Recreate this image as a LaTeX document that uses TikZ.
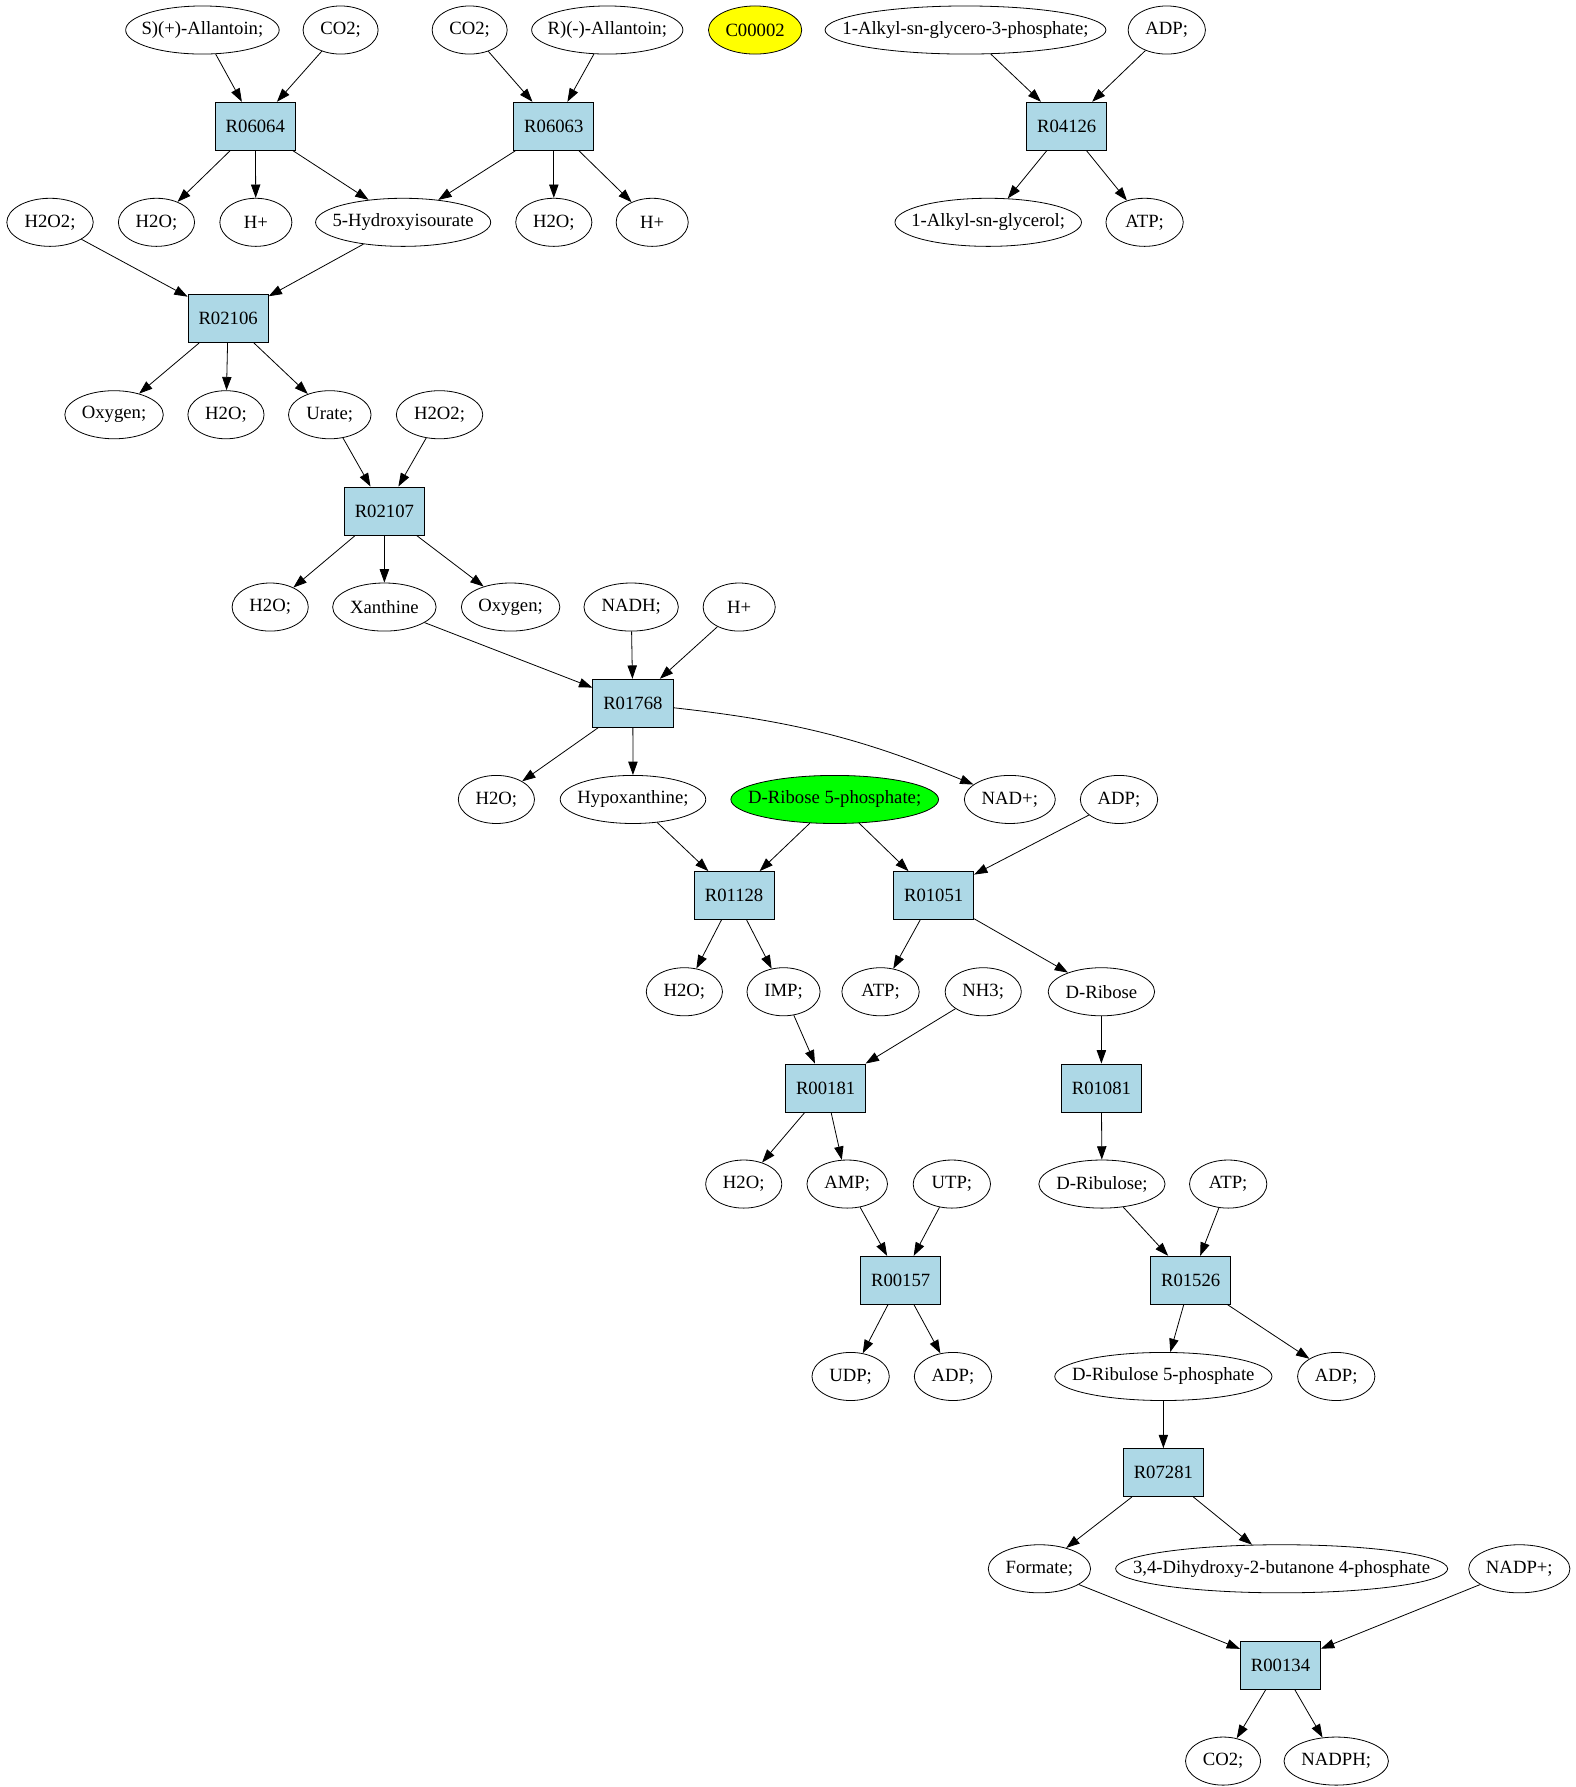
\documentclass[tikz,border=0pt]{standalone}
\usepackage{fontspec}
\setmainfont{Liberation Serif}
\usetikzlibrary{shapes.geometric,arrows.meta}
\definecolor{lb}{HTML}{ADD8E6}
\definecolor{yel}{HTML}{FFFF00}
\definecolor{grn}{HTML}{00FF00}
\newcommand{\zw}[1]{\makebox[0pt]{#1}}
\begin{document}
\begin{tikzpicture}[x=0.8514pt,y=0.8514pt,
  met/.style={ellipse,draw,fill=white,line width=0.6pt,minimum height=36pt,minimum width=#1*0.8514pt,inner sep=0pt,font=\fontsize{14}{16}\selectfont},
  rx/.style={rectangle,draw,fill=lb,line width=0.6pt,minimum width=60pt,minimum height=36pt,inner sep=0pt,font=\fontsize{14}{16}\selectfont},
  ar/.style={-{Triangle[length=10pt,width=7pt]},line width=0.6pt}]
\useasboundingbox (0,0) rectangle (1385,-1571.4);
% row 0
\node[met=135] (sall) at (178,-26.4) {\zw{S)(+)-Allantoin;}};
\node[met=66] (co2a) at (299.5,-26.4) {\zw{CO2;}};
\node[met=66] (co2b) at (413,-26.4) {\zw{CO2;}};
\node[met=133] (rall) at (534,-26.4) {\zw{R)(-)-Allantoin;}};
\node[met=82,fill=yel] (c2) at (664,-26.4) {\zw{C00002}};
\node[met=247] (agp) at (849,-26.4) {\zw{1-Alkyl-sn-glycero-3-phosphate;}};
\node[met=68] (adp0) at (1026,-26.4) {\zw{ADP;}};
% row 1
\node[rx] (r06064) at (224.5,-111) {R06064};
\node[rx] (r06063) at (487,-111) {R06063};
\node[rx] (r04126) at (938,-111) {R04126};
% row 2
\node[met=76] (h2o2a) at (44,-195.5) {\zw{H2O2;}};
\node[met=67] (h2oa) at (137.6,-195.5) {\zw{H2O;}};
\node[met=63.4] (hpa) at (225,-195.5) {\zw{H+}};
\node[met=154] (hiu) at (354.5,-195.5) {\zw{5-Hydroxyisourate}};
\node[met=67] (h2ob) at (487,-195.5) {\zw{H2O;}};
\node[met=63.4] (hpb) at (573.5,-195.5) {\zw{H+}};
\node[met=164] (ag) at (869,-195.5) {\zw{1-Alkyl-sn-glycerol;}};
\node[met=68] (atpa) at (1006.5,-195.5) {\zw{ATP;}};
% row 3
\node[rx] (r02106) at (200.6,-280.1) {R02106};
% row 4
\node[met=86.6] (oxa) at (100.3,-364.7) {\zw{Oxygen;}};
\node[met=67] (h2oc) at (198.7,-364.7) {\zw{H2O;}};
\node[met=72.6] (urate) at (290,-364.7) {\zw{Urate;}};
\node[met=76] (h2o2b) at (386.5,-364.7) {\zw{H2O2;}};
% row 5
\node[rx] (r02107) at (338,-449.3) {R02107};
% row 6
\node[met=67] (h2od) at (237.6,-533.8) {\zw{H2O;}};
\node[met=91] (xan) at (338,-533.8) {\zw{Xanthine}};
\node[met=86.6] (oxb) at (449,-533.8) {\zw{Oxygen;}};
\node[met=83] (nadh) at (555,-533.8) {\zw{NADH;}};
\node[met=63.4] (hpc) at (650,-533.8) {\zw{H+}};
% row 7
\node[rx] (r01768) at (556.5,-618.4) {R01768};
% row 8
\node[met=67] (h2oe) at (436.5,-703) {\zw{H2O;}};
\node[met=128] (hyp) at (556.6,-703) {\zw{Hypoxanthine;}};
\node[met=182.6,fill=grn] (dr5p) at (734,-703) {\zw{D-Ribose 5-phosphate;}};
\node[met=80] (nad) at (888,-703) {\zw{NAD+;}};
\node[met=68] (adpa) at (984,-703) {\zw{ADP;}};
% row 9
\node[rx] (r01128) at (645.5,-787.5) {R01128};
\node[rx] (r01051) at (821,-787.5) {R01051};
% row 10
\node[met=67] (h2of) at (601.8,-872.1) {\zw{H2O;}};
\node[met=64.3] (imp) at (689,-872.1) {\zw{IMP;}};
\node[met=68] (atpb) at (774.3,-872.1) {\zw{ATP;}};
\node[met=67] (nh3) at (864.6,-872.1) {\zw{NH3;}};
\node[met=93.6] (drib) at (968.5,-872.1) {\zw{D-Ribose}};
% row 11
\node[rx] (r00181) at (726,-956.7) {R00181};
\node[rx] (r01081) at (968.5,-956.7) {R01081};
% row 12
\node[met=67] (h2og) at (654,-1041.2) {\zw{H2O;}};
\node[met=70.8] (amp) at (745,-1041.2) {\zw{AMP;}};
\node[met=68] (utp) at (837,-1041.2) {\zw{UTP;}};
\node[met=111] (drul) at (969,-1041.2) {\zw{D-Ribulose;}};
\node[met=68] (atpc) at (1080,-1041.2) {\zw{ATP;}};
% row 13
\node[rx] (r00157) at (792,-1125.8) {R00157};
\node[rx] (r01526) at (1047,-1125.8) {R01526};
% row 14
\node[met=68] (udp) at (748,-1210.4) {\zw{UDP;}};
\node[met=68] (adpb) at (838,-1210.4) {\zw{ADP;}};
\node[met=191] (dru5p) at (1023,-1210.4) {\zw{D-Ribulose 5-phosphate}};
\node[met=68] (adpc) at (1175,-1210.4) {\zw{ADP;}};
% row 15
\node[rx] (r07281) at (1023,-1294.9) {R07281};
% row 16
\node[met=90] (form) at (914,-1379.5) {\zw{Formate;}};
\node[met=292] (dhbp) at (1127,-1379.5) {\zw{3,4-Dihydroxy-2-butanone 4-phosphate}};
\node[met=89] (nadp) at (1336,-1379.5) {\zw{NADP+;}};
% row 17
\node[rx] (r00134) at (1126,-1464.1) {R00134};
% row 18
\node[met=66] (co2c) at (1075.5,-1548.6) {\zw{CO2;}};
\node[met=91.8] (nadph) at (1175,-1548.6) {\zw{NADPH;}};
% edges
\draw[ar] (sall) -- (r06064);
\draw[ar] (co2a) -- (r06064);
\draw[ar] (co2b) -- (r06063);
\draw[ar] (rall) -- (r06063);
\draw[ar] (agp) -- (r04126);
\draw[ar] (adp0) -- (r04126);
\draw[ar] (r06064) -- (h2oa);
\draw[ar] (r06064) -- (hpa);
\draw[ar] (r06064) -- (hiu);
\draw[ar] (r06063) -- (hiu);
\draw[ar] (r06063) -- (h2ob);
\draw[ar] (r06063) -- (hpb);
\draw[ar] (r04126) -- (ag);
\draw[ar] (r04126) -- (atpa);
\draw[ar] (h2o2a) -- (r02106);
\draw[ar] (hiu) -- (r02106);
\draw[ar] (r02106) -- (oxa);
\draw[ar] (r02106) -- (h2oc);
\draw[ar] (r02106) -- (urate);
\draw[ar] (urate) -- (r02107);
\draw[ar] (h2o2b) -- (r02107);
\draw[ar] (r02107) -- (h2od);
\draw[ar] (r02107) -- (xan);
\draw[ar] (r02107) -- (oxb);
\draw[ar] (xan) -- (r01768);
\draw[ar] (nadh) -- (r01768);
\draw[ar] (hpc) -- (r01768);
\draw[ar] (r01768) -- (h2oe);
\draw[ar] (r01768) -- (hyp);
\draw[ar] (r01768) to[bend left=8] (nad);
\draw[ar] (hyp) -- (r01128);
\draw[ar] (dr5p) -- (r01128);
\draw[ar] (dr5p) -- (r01051);
\draw[ar] (adpa) -- (r01051);
\draw[ar] (r01128) -- (h2of);
\draw[ar] (r01128) -- (imp);
\draw[ar] (r01051) -- (atpb);
\draw[ar] (r01051) -- (drib);
\draw[ar] (imp) -- (r00181);
\draw[ar] (nh3) -- (r00181);
\draw[ar] (drib) -- (r01081);
\draw[ar] (r00181) -- (h2og);
\draw[ar] (r00181) -- (amp);
\draw[ar] (r01081) -- (drul);
\draw[ar] (amp) -- (r00157);
\draw[ar] (utp) -- (r00157);
\draw[ar] (drul) -- (r01526);
\draw[ar] (atpc) -- (r01526);
\draw[ar] (r00157) -- (udp);
\draw[ar] (r00157) -- (adpb);
\draw[ar] (r01526) -- (dru5p);
\draw[ar] (r01526) -- (adpc);
\draw[ar] (dru5p) -- (r07281);
\draw[ar] (r07281) -- (form);
\draw[ar] (r07281) -- (dhbp);
\draw[ar] (form) -- (r00134);
\draw[ar] (nadp) -- (r00134);
\draw[ar] (r00134) -- (co2c);
\draw[ar] (r00134) -- (nadph);
\end{tikzpicture}
\end{document}
